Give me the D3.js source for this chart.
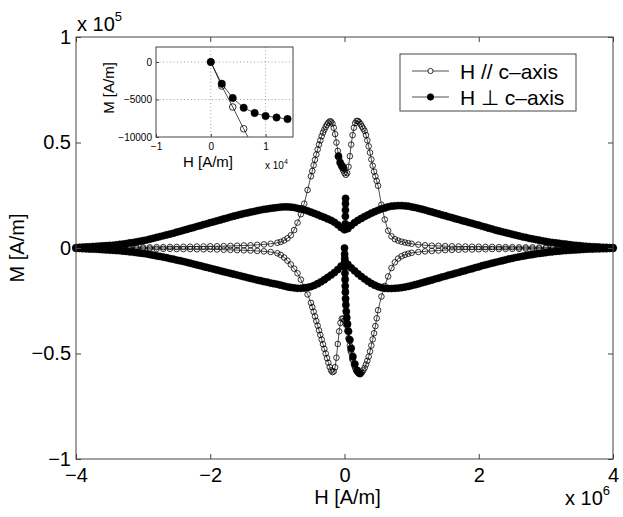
<!DOCTYPE html>
<html>
<head>
<meta charset="utf-8">
<script src="https://cdnjs.cloudflare.com/ajax/libs/d3/7.8.5/d3.min.js"></script>
<style>
  body { margin: 0; background: #fff; }
  svg { display: block; font-family: 'Liberation Sans', Arial, Helvetica, sans-serif; }
</style>
</head>
<body>
<svg id="chart" width="623" height="517"></svg>
<script>
(function () {

// H in units of 1e6 A/m, M in units of 1e4 A/m (main plot)
const hOpen = [
  -4.0,-3.9,-3.8,-3.7,-3.6,-3.5,-3.4,-3.3,-3.2,-3.1,
  -3.0,-2.9,-2.8,-2.7,-2.6,-2.5,-2.4,-2.3,-2.2,-2.1,
  -2.0,-1.9,-1.8,-1.7,-1.6,-1.5,-1.4,-1.3,-1.2,-1.1,
  -1.0,-0.95,-0.9,-0.85,-0.8,-0.75,-0.7,-0.65,-0.6,-0.55,
  -0.5,-0.48,-0.46,-0.44,-0.42,-0.4,-0.38,-0.36,-0.34,-0.32,
  -0.3,-0.28,-0.26,-0.24,-0.22,-0.2,-0.18,-0.16,-0.14,-0.12,
  -0.1,-0.08,-0.06,-0.04,-0.02,0,0.02,0.04,0.06,0.08,
  0.1,0.12,0.14,0.16,0.18,0.2,0.22,0.24,0.26,0.28,
  0.3,0.32,0.34,0.36,0.38,0.4,0.42,0.44,0.46,0.48,
  0.5,0.55,0.6,0.65,0.7,0.75,0.8,0.85,0.9,0.95,
  1.0,1.1,1.2,1.3,1.4,1.5,1.6,1.7,1.8,1.9,
  2.0,2.1,2.2,2.3,2.4,2.5,2.6,2.7,2.8,2.9,
  3.0,3.1,3.2,3.3,3.4,3.5,3.6,3.7,3.8,3.9,4.0
];
const mOpenUpper = [
  0.00,0.00,0.01,0.01,0.01,0.01,0.02,0.02,0.02,0.03,
  0.03,0.03,0.04,0.04,0.05,0.05,0.06,0.06,0.07,0.07,
  0.08,0.08,0.09,0.10,0.11,0.12,0.13,0.15,0.17,0.20,
  0.25,0.29,0.36,0.46,0.60,0.85,1.20,1.60,2.10,2.75,
  3.40,3.65,3.92,4.18,4.43,4.67,4.90,5.10,5.30,5.47,
  5.61,5.74,5.85,5.94,6.00,5.99,5.90,5.70,5.40,5.00,
  4.60,4.25,4.00,3.82,3.68,3.55,3.47,3.55,3.85,4.35,
  4.90,5.35,5.70,5.92,6.02,6.02,5.96,5.87,5.76,5.66,
  5.55,5.35,5.10,4.82,4.52,4.20,3.90,3.62,3.40,3.18,
  2.95,2.05,1.35,0.82,0.55,0.42,0.35,0.30,0.26,0.23,
  0.20,0.16,0.13,0.11,0.10,0.09,0.08,0.07,0.07,0.06,
  0.06,0.05,0.05,0.04,0.04,0.04,0.03,0.03,0.03,0.02,
  0.02,0.02,0.02,0.01,0.01,0.01,0.01,0.00,0.00,0.00,0.00
];
const mOpenLower = [
  0.00,0.00,-0.01,-0.01,-0.01,-0.01,-0.02,-0.02,-0.02,-0.03,
  -0.03,-0.03,-0.04,-0.04,-0.04,-0.05,-0.05,-0.05,-0.06,-0.06,
  -0.06,-0.07,-0.08,-0.09,-0.10,-0.11,-0.12,-0.14,-0.16,-0.19,
  -0.25,-0.33,-0.45,-0.60,-0.78,-0.98,-1.20,-1.50,-1.85,-2.20,
  -2.60,-2.80,-3.02,-3.24,-3.46,-3.68,-3.90,-4.12,-4.34,-4.56,
  -4.78,-5.00,-5.22,-5.44,-5.64,-5.80,-5.88,-5.85,-5.65,-5.20,
  -4.55,-3.95,-3.55,-3.35,-3.35,-3.45,-3.62,-3.92,-4.28,-4.62,
  -4.95,-5.24,-5.50,-5.70,-5.84,-5.92,-5.95,-5.93,-5.90,-5.80,
  -5.68,-5.52,-5.35,-5.15,-4.90,-4.62,-4.33,-4.04,-3.70,-3.33,
  -2.95,-2.30,-1.80,-1.35,-0.95,-0.68,-0.50,-0.39,-0.32,-0.27,
  -0.23,-0.19,-0.16,-0.14,-0.12,-0.10,-0.09,-0.08,-0.07,-0.07,
  -0.06,-0.06,-0.05,-0.05,-0.04,-0.04,-0.04,-0.03,-0.03,-0.03,
  -0.02,-0.02,-0.02,-0.01,-0.01,-0.01,-0.01,0.00,0.00,0.00,0.00
];
// virgin curve, H // c
const hOpenInit = [0,0.002,0.004,0.006,0.01,0.015,0.02,0.03,0.045,0.065,0.09,0.12,0.15,0.18,0.21];
const mOpenInit = [0,-0.32,-0.6,-0.89,-1.4,-2.0,-2.5,-3.1,-3.7,-4.3,-4.85,-5.3,-5.6,-5.82,-5.93];

const hFilled = [
  -4.0,-3.95,-3.9,-3.85,-3.8,-3.75,-3.7,-3.65,-3.6,-3.55,
  -3.5,-3.45,-3.4,-3.35,-3.3,-3.25,-3.2,-3.15,-3.1,-3.05,
  -3.0,-2.95,-2.9,-2.85,-2.8,-2.75,-2.7,-2.65,-2.6,-2.55,
  -2.5,-2.45,-2.4,-2.35,-2.3,-2.25,-2.2,-2.15,-2.1,-2.05,
  -2.0,-1.95,-1.9,-1.85,-1.8,-1.75,-1.7,-1.65,-1.6,-1.55,
  -1.5,-1.45,-1.4,-1.35,-1.3,-1.25,-1.2,-1.15,-1.1,-1.05,
  -1.0,-0.95,-0.9,-0.85,-0.8,-0.75,-0.7,-0.65,-0.6,-0.55,
  -0.5,-0.45,-0.4,-0.35,-0.3,-0.25,-0.2,-0.15,-0.1,-0.05,
  0,0.05,0.1,0.15,0.2,0.25,0.3,0.35,0.4,0.45,
  0.5,0.55,0.6,0.65,0.7,0.75,0.8,0.85,0.9,0.95,
  1.0,1.05,1.1,1.15,1.2,1.25,1.3,1.35,1.4,1.45,
  1.5,1.55,1.6,1.65,1.7,1.75,1.8,1.85,1.9,1.95,
  2.0,2.05,2.1,2.15,2.2,2.25,2.3,2.35,2.4,2.45,
  2.5,2.55,2.6,2.65,2.7,2.75,2.8,2.85,2.9,2.95,
  3.0,3.05,3.1,3.15,3.2,3.25,3.3,3.35,3.4,3.45,
  3.5,3.55,3.6,3.65,3.7,3.75,3.8,3.85,3.9,3.95,4.0
];
const mFilledUpper = [
  0.02,0.03,0.04,0.05,0.06,0.07,0.08,0.09,0.10,0.11,
  0.12,0.13,0.15,0.17,0.19,0.21,0.24,0.26,0.29,0.32,
  0.35,0.38,0.42,0.46,0.50,0.54,0.58,0.62,0.66,0.70,
  0.75,0.79,0.84,0.88,0.93,0.97,1.02,1.06,1.11,1.15,
  1.20,1.24,1.29,1.33,1.38,1.42,1.47,1.51,1.55,1.59,
  1.63,1.66,1.70,1.73,1.77,1.80,1.83,1.85,1.88,1.90,
  1.92,1.94,1.95,1.95,1.94,1.92,1.88,1.85,1.81,1.76,
  1.70,1.64,1.58,1.51,1.45,1.38,1.31,1.22,1.10,0.97,
  0.87,0.92,1.07,1.20,1.31,1.40,1.49,1.57,1.65,1.72,
  1.79,1.85,1.90,1.95,1.98,2.00,2.01,2.01,2.00,1.98,
  1.95,1.92,1.88,1.84,1.80,1.75,1.71,1.66,1.62,1.57,
  1.53,1.48,1.44,1.39,1.35,1.30,1.26,1.21,1.17,1.12,
  1.08,1.03,0.99,0.94,0.90,0.85,0.81,0.77,0.73,0.69,
  0.65,0.61,0.57,0.53,0.50,0.46,0.43,0.40,0.37,0.34,
  0.31,0.28,0.26,0.24,0.22,0.20,0.18,0.16,0.14,0.12,
  0.11,0.09,0.08,0.07,0.06,0.05,0.04,0.03,0.03,0.02,0.02
];
const mFilledLower = [
  -0.02,-0.02,-0.03,-0.04,-0.05,-0.05,-0.06,-0.07,-0.08,-0.09,
  -0.10,-0.11,-0.12,-0.13,-0.15,-0.16,-0.18,-0.20,-0.22,-0.24,
  -0.26,-0.28,-0.31,-0.34,-0.37,-0.40,-0.43,-0.46,-0.50,-0.53,
  -0.57,-0.60,-0.64,-0.68,-0.72,-0.76,-0.80,-0.84,-0.88,-0.92,
  -0.96,-1.00,-1.04,-1.08,-1.12,-1.16,-1.20,-1.24,-1.28,-1.32,
  -1.36,-1.40,-1.44,-1.48,-1.52,-1.55,-1.59,-1.62,-1.66,-1.69,
  -1.72,-1.76,-1.80,-1.84,-1.87,-1.89,-1.91,-1.91,-1.90,-1.87,
  -1.83,-1.77,-1.69,-1.60,-1.50,-1.39,-1.28,-1.16,-1.02,-0.86,
  -0.70,-0.78,-0.94,-1.08,-1.22,-1.35,-1.47,-1.58,-1.68,-1.76,
  -1.83,-1.88,-1.91,-1.92,-1.92,-1.91,-1.90,-1.88,-1.85,-1.82,
  -1.78,-1.74,-1.70,-1.65,-1.61,-1.56,-1.52,-1.47,-1.43,-1.38,
  -1.34,-1.29,-1.25,-1.20,-1.16,-1.11,-1.07,-1.02,-0.98,-0.93,
  -0.89,-0.84,-0.80,-0.76,-0.72,-0.68,-0.64,-0.60,-0.56,-0.52,
  -0.49,-0.45,-0.42,-0.39,-0.36,-0.33,-0.31,-0.28,-0.26,-0.24,
  -0.22,-0.20,-0.18,-0.16,-0.15,-0.13,-0.12,-0.11,-0.10,-0.09,
  -0.08,-0.07,-0.06,-0.05,-0.05,-0.04,-0.04,-0.03,-0.03,-0.02,-0.02
];
// virgin curve and the sharp jumps near H = 0, H perp c
const hFilledInit = [0,0.002,0.004,0.006,0.008,0.01,0.012,0.014];
const mFilledInit = [0,-0.29,-0.48,-0.61,-0.68,-0.72,-0.74,-0.76];
const hFilledDown = [0.005,0.007,0.009,0.011,0.013,0.016,0.02,0.026,0.034,0.045,0.06,0.08,0.1,0.125,0.155,0.19,0.23];
const mFilledDown = [-0.9,-1.2,-1.5,-1.8,-2.1,-2.4,-2.7,-3.0,-3.3,-3.6,-3.95,-4.35,-4.75,-5.15,-5.5,-5.8,-5.95];
const hFilledUp = [0.012,0.013,0.014,0.015,0.016];
const mFilledUp = [1.15,1.5,1.8,2.1,2.35];
const hFilledDip = [-0.09,-0.065,-0.04,-0.015];
const mFilledDip = [4.35,4.05,3.9,3.8];

// inset, A/m
const insetOpenH = [0,2000,4000,6000,8000];
const insetOpenM = [0,-3200,-6000,-8900,-11700];
const insetFilledH = [0,2000,4000,6000,8000,10000,12000,14000];
const insetFilledM = [0,-2900,-4800,-6100,-6800,-7200,-7400,-7600];

const xTicks = [-4,-2,0,2,4];
const xTickLabels = ['\u22124','\u22122','0','2','4'];
const yTicks = [-10,-5,0,5,10];
const yTickLabels = ['\u22121','\u22120.5','0','0.5','1'];
const insetXTicks = [-10000,0,10000];
const insetXTickLabels = ['\u22121','0','1'];
const insetYTicks = [-10000,-5000,0];
const insetYTickLabels = ['\u221210000','\u22125000','0'];
const legendLabels = ['H // c\u2013axis', 'H \u22a5 c\u2013axis'];

const svg = d3.select('#chart');
const frameColor = '#444';

const plot = {left: 76, right: 613, top: 37, bottom: 459};
const x = d3.scaleLinear().domain([-4, 4]).range([plot.left, plot.right]);
const y = d3.scaleLinear().domain([-10, 10]).range([plot.bottom, plot.top]);

const line = d3.line()
  .x(function(d) { return x(d[0]); })
  .y(function(d) { return y(d[1]); });

function drawSeries(parent, pts, filled, sx, sy, lineFn, r) {
  parent.append('path')
    .datum(pts)
    .attr('d', lineFn)
    .attr('fill', 'none')
    .attr('stroke', '#000')
    .attr('stroke-width', 0.7);
  parent.append('g').selectAll('circle')
    .data(pts)
    .enter().append('circle')
      .attr('cx', function(d) { return sx(d[0]); })
      .attr('cy', function(d) { return sy(d[1]); })
      .attr('r', r)
      .attr('fill', filled ? '#000' : 'none')
      .attr('stroke', '#000')
      .attr('stroke-width', filled ? 0.5 : 0.8);
}

// main data
const data = svg.append('g').attr('class', 'data');
[[hOpen, mOpenUpper], [hOpen, mOpenLower], [hOpenInit, mOpenInit]].forEach(function(s) {
  drawSeries(data, d3.zip(s[0], s[1]), false, x, y, line, 2.8);
});
[[hFilled, mFilledUpper], [hFilled, mFilledLower], [hFilledInit, mFilledInit],
 [hFilledDown, mFilledDown], [hFilledUp, mFilledUp], [hFilledDip, mFilledDip]].forEach(function(s) {
  drawSeries(data, d3.zip(s[0], s[1]), true, x, y, line, 3.6);
});

// axes (ticks point inward)
function styleAxis(g) {
  g.select('.domain').remove();
  g.selectAll('.tick line').attr('stroke', frameColor);
  g.selectAll('.tick text').attr('fill', '#000').style('font-size', '20px');
}

svg.append('g')
  .attr('transform', 'translate(0,' + plot.bottom + ')')
  .call(d3.axisBottom(x).tickValues(xTicks).tickSizeInner(-5).tickSizeOuter(0).tickPadding(9)
    .tickFormat(function(d, i) { return xTickLabels[i]; }))
  .call(styleAxis);
svg.append('g')
  .attr('transform', 'translate(0,' + plot.top + ')')
  .call(d3.axisTop(x).tickValues(xTicks).tickSizeInner(-5).tickSizeOuter(0).tickFormat(''))
  .call(styleAxis);
svg.append('g')
  .attr('transform', 'translate(' + plot.left + ',0)')
  .call(d3.axisLeft(y).tickValues(yTicks).tickSizeInner(-5).tickSizeOuter(0).tickPadding(5)
    .tickFormat(function(d, i) { return yTickLabels[i]; }))
  .call(styleAxis);
svg.append('g')
  .attr('transform', 'translate(' + plot.right + ',0)')
  .call(d3.axisRight(y).tickValues(yTicks).tickSizeInner(-5).tickSizeOuter(0).tickFormat(''))
  .call(styleAxis);

svg.append('rect')
  .attr('x', plot.left).attr('y', plot.top)
  .attr('width', plot.right - plot.left).attr('height', plot.bottom - plot.top)
  .attr('fill', 'none').attr('stroke', frameColor).attr('stroke-width', 1);

svg.append('text')
  .attr('x', (plot.left + plot.right) / 2 + 3).attr('y', 504)
  .attr('text-anchor', 'middle').style('font-size', '20px')
  .text('H [A/m]');
svg.append('text')
  .attr('transform', 'translate(24,' + ((plot.top + plot.bottom) / 2) + ') rotate(-90)')
  .attr('text-anchor', 'middle').style('font-size', '20px')
  .text('M [A/m]');

// exponents
const exp5 = svg.append('text').attr('x', 77).attr('y', 31).style('font-size', '20px');
exp5.append('tspan').text('x 10');
exp5.append('tspan').attr('dy', -10).style('font-size', '13px').text('5');
const exp6 = svg.append('text').attr('x', 565).attr('y', 505).style('font-size', '20px');
exp6.append('tspan').text('x 10');
exp6.append('tspan').attr('dy', -10).style('font-size', '13px').text('6');

// legend
const legend = svg.append('g').attr('class', 'legend');
legend.append('rect')
  .attr('x', 400).attr('y', 54).attr('width', 176).attr('height', 57)
  .attr('fill', '#fff').attr('stroke', frameColor).attr('stroke-width', 1);
const legendItem = legend.selectAll('.legend-item')
  .data(legendLabels)
  .enter().append('g')
    .attr('class', 'legend-item')
    .attr('transform', function(d, i) { return 'translate(0,' + (71 + i * 26) + ')'; });
legendItem.append('line')
  .attr('x1', 412).attr('x2', 449).attr('y1', 0).attr('y2', 0)
  .attr('stroke', '#000').attr('stroke-width', 0.7);
legendItem.append('circle')
  .attr('cx', 430.5).attr('cy', 0)
  .attr('r', function(d, i) { return i === 0 ? 2.6 : 3.2; })
  .attr('fill', function(d, i) { return i === 0 ? '#fff' : '#000'; })
  .attr('stroke', '#000').attr('stroke-width', 0.8);
legendItem.append('text')
  .attr('x', 460).attr('y', 0).attr('dy', '0.36em')
  .style('font-size', '21px')
  .text(function(d) { return d; });

// inset
const inset = {left: 156, right: 293, top: 47, bottom: 137};
const ix = d3.scaleLinear().domain([-10000, 15000]).range([inset.left, inset.right]);
const iy = d3.scaleLinear().domain([-10000, 2000]).range([inset.bottom, inset.top]);
const iline = d3.line()
  .x(function(d) { return ix(d[0]); })
  .y(function(d) { return iy(d[1]); });

const ig = svg.append('g').attr('class', 'inset');
ig.append('rect')
  .attr('x', inset.left).attr('y', inset.top)
  .attr('width', inset.right - inset.left).attr('height', inset.bottom - inset.top)
  .attr('fill', '#fff');

ig.append('clipPath').attr('id', 'inset-clip')
  .append('rect')
  .attr('x', inset.left).attr('y', inset.top)
  .attr('width', inset.right - inset.left).attr('height', inset.bottom - inset.top);

const grid = ig.append('g').attr('class', 'grid');
grid.selectAll('.gx')
  .data(insetXTicks.slice(1))
  .enter().append('line')
    .attr('x1', function(d) { return ix(d); }).attr('x2', function(d) { return ix(d); })
    .attr('y1', inset.top).attr('y2', inset.bottom);
grid.selectAll('.gy')
  .data(insetYTicks.slice(1))
  .enter().append('line')
    .attr('x1', inset.left).attr('x2', inset.right)
    .attr('y1', function(d) { return iy(d); }).attr('y2', function(d) { return iy(d); });
grid.selectAll('line')
  .attr('stroke', '#888').attr('stroke-width', 0.8).attr('stroke-dasharray', '1,2.5');

const idata = ig.append('g').attr('clip-path', 'url(#inset-clip)');
drawSeries(idata, d3.zip(insetOpenH, insetOpenM), false, ix, iy, iline, 3.3);
drawSeries(idata, d3.zip(insetFilledH, insetFilledM), true, ix, iy, iline, 3.7);

function styleInsetAxis(g) {
  g.select('.domain').remove();
  g.selectAll('.tick line').attr('stroke', frameColor);
  g.selectAll('.tick text').attr('fill', '#000').style('font-size', '10px');
}
ig.append('g')
  .attr('transform', 'translate(0,' + inset.bottom + ')')
  .call(d3.axisBottom(ix).tickValues(insetXTicks).tickSizeInner(-3).tickSizeOuter(0).tickPadding(6)
    .tickFormat(function(d, i) { return insetXTickLabels[i]; }))
  .call(styleInsetAxis);
ig.append('g')
  .attr('transform', 'translate(' + inset.left + ',0)')
  .call(d3.axisLeft(iy).tickValues(insetYTicks).tickSizeInner(-3).tickSizeOuter(0).tickPadding(4)
    .tickFormat(function(d, i) { return insetYTickLabels[i]; }))
  .call(styleInsetAxis);

ig.append('rect')
  .attr('x', inset.left).attr('y', inset.top)
  .attr('width', inset.right - inset.left).attr('height', inset.bottom - inset.top)
  .attr('fill', 'none').attr('stroke', frameColor).attr('stroke-width', 1);

ig.append('text')
  .attr('x', 208).attr('y', 167)
  .attr('text-anchor', 'middle').style('font-size', '15px')
  .text('H [A/m]');
ig.append('text')
  .attr('transform', 'translate(114,88) rotate(-90)')
  .attr('text-anchor', 'middle').style('font-size', '15px')
  .text('M [A/m]');
const exp4 = ig.append('text').attr('x', 265).attr('y', 169).style('font-size', '10px');
exp4.append('tspan').text('x 10');
exp4.append('tspan').attr('dy', -5).style('font-size', '7px').text('4');

})();
</script>
</body>
</html>
